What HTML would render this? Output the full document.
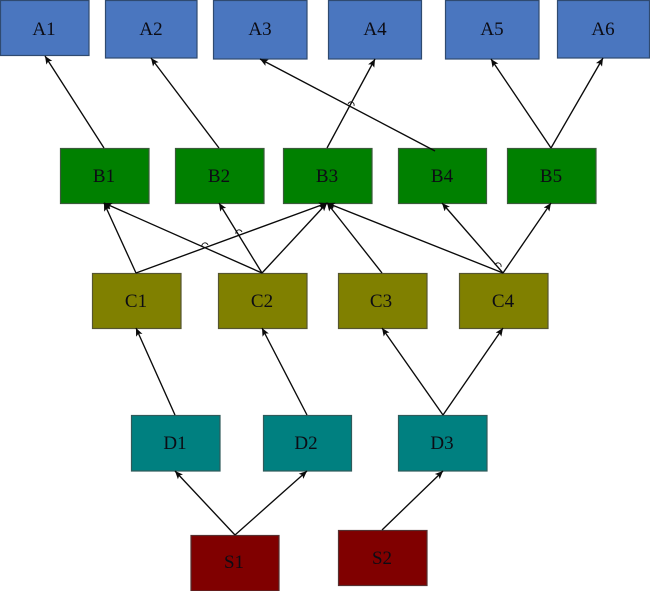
<!DOCTYPE html>
<html>
<head>
<meta charset="utf-8">
<style>
html,body{margin:0;padding:0;background:#fff;}
body{width:650px;height:591px;overflow:hidden;}
svg{display:block;}
text{font-family:"Liberation Serif",serif;font-size:19px;fill:#0c0c14;text-anchor:middle;}
.a{fill:#4a76bf;stroke:#2f4a70;stroke-width:1.2;}
.b{fill:#008000;stroke:#3a5a3a;stroke-width:1.2;}
.c{fill:#808000;stroke:#555530;stroke-width:1.2;}
.d{fill:#008080;stroke:#2f5a5a;stroke-width:1.2;}
.s{fill:#800000;stroke:#553030;stroke-width:1.2;}
.e{stroke:#0a0a0a;stroke-width:1.35;fill:none;marker-end:url(#ah);}
.h{stroke:#0a0a0a;stroke-width:.9;fill:none;}
</style>
</head>
<body>
<svg width="650" height="591" viewBox="0 0 650 591" xmlns="http://www.w3.org/2000/svg">
<defs>
<marker id="ah" markerUnits="userSpaceOnUse" markerWidth="9" markerHeight="9" refX="8" refY="4" orient="auto">
<path d="M0,0.5 L8,4 L0,7.5 L1.8,4 Z" fill="#0a0a0a"/>
</marker>
</defs>
<rect class="a" x="0.5" y="0.5" width="88.5" height="55"/>
<rect class="a" x="105.5" y="0.5" width="91.5" height="57.5"/>
<rect class="a" x="213.5" y="0.5" width="93.5" height="58.5"/>
<rect class="a" x="328.5" y="0.5" width="93" height="58.5"/>
<rect class="a" x="445.5" y="0.5" width="93.5" height="58.5"/>
<rect class="a" x="557.5" y="0.5" width="92" height="57.5"/>
<rect class="b" x="60.5" y="148.5" width="88.5" height="55"/>
<rect class="b" x="175.5" y="148.5" width="88.5" height="55"/>
<rect class="b" x="283.5" y="148.5" width="88.5" height="55"/>
<rect class="b" x="398.5" y="148.5" width="88" height="55"/>
<rect class="b" x="507.5" y="148.5" width="88.5" height="55"/>
<rect class="c" x="92.5" y="273.5" width="88.5" height="55"/>
<rect class="c" x="218.5" y="273.5" width="88.5" height="55"/>
<rect class="c" x="338.5" y="273.5" width="88.5" height="55"/>
<rect class="c" x="459.5" y="273.5" width="88.5" height="55"/>
<rect class="d" x="131.5" y="415.5" width="88.5" height="55.5"/>
<rect class="d" x="263.5" y="415.5" width="88" height="55.5"/>
<rect class="d" x="398.5" y="415.5" width="88.5" height="55.5"/>
<rect class="s" x="191" y="535.5" width="88" height="55.5"/>
<rect class="s" x="338.5" y="530.5" width="88.5" height="55"/>

<line class="e" x1="104" y1="148" x2="45" y2="56"/>
<line class="e" x1="219" y1="148" x2="151" y2="58"/>
<line class="e" x1="327" y1="148" x2="375" y2="59"/>
<line class="e" x1="435" y1="151" x2="260" y2="59"/>
<line class="e" x1="551" y1="148" x2="491" y2="59"/>
<line class="e" x1="551" y1="148" x2="603" y2="58"/>
<line class="e" x1="136" y1="273" x2="104" y2="203"/>
<line class="e" x1="136" y1="273" x2="327" y2="203"/>
<line class="e" x1="262" y1="273" x2="104" y2="203"/>
<line class="e" x1="262" y1="273" x2="219" y2="203"/>
<line class="e" x1="262" y1="273" x2="327" y2="203"/>
<line class="e" x1="382" y1="273" x2="327" y2="203"/>
<line class="e" x1="503" y1="273" x2="327" y2="203"/>
<line class="e" x1="503" y1="273" x2="442" y2="203"/>
<line class="e" x1="503" y1="273" x2="551" y2="203"/>
<line class="e" x1="175" y1="415" x2="136" y2="328"/>
<line class="e" x1="307" y1="415" x2="262" y2="328"/>
<line class="e" x1="443" y1="415" x2="382" y2="328"/>
<line class="e" x1="443" y1="415" x2="503" y2="328"/>
<line class="e" x1="235" y1="535" x2="175" y2="471"/>
<line class="e" x1="235" y1="535" x2="307" y2="471"/>
<line class="e" x1="382" y1="530" x2="443" y2="471"/>

<path class="h" d="M348,104 a3,3 0 0 1 6,2"/>
<path class="h" d="M202,247 a3,3 0 0 1 6,-2"/>
<path class="h" d="M236,234 a3,3 0 0 1 6,-2"/>
<path class="h" d="M495,265 a3,3 0 0 1 6,2"/>

<text x="44" y="35">A1</text>
<text x="151" y="35">A2</text>
<text x="260" y="35">A3</text>
<text x="375" y="35">A4</text>
<text x="492" y="35">A5</text>
<text x="603" y="35">A6</text>
<text x="104" y="182">B1</text>
<text x="219" y="182">B2</text>
<text x="327" y="182">B3</text>
<text x="442" y="182">B4</text>
<text x="551" y="182">B5</text>
<text x="136" y="307">C1</text>
<text x="262" y="307">C2</text>
<text x="381" y="307">C3</text>
<text x="503" y="307">C4</text>
<text x="175" y="449">D1</text>
<text x="306" y="449">D2</text>
<text x="442" y="449">D3</text>
<text x="234" y="568">S1</text>
<text x="382" y="564">S2</text>
</svg>
</body>
</html>
